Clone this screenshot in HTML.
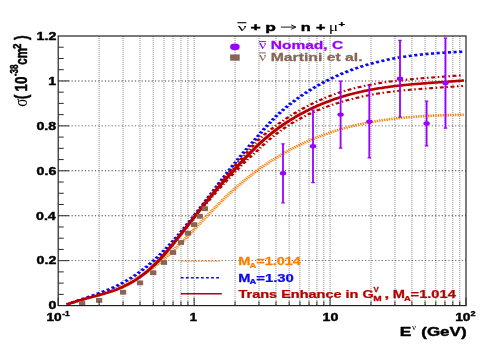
<!DOCTYPE html>
<html><head><meta charset="utf-8"><title>chart</title>
<style>html,body{margin:0;padding:0;background:#fff;}body{width:485px;height:360px;overflow:hidden;font-family:"Liberation Sans",sans-serif;}</style>
</head><body>
<svg width="485" height="360" viewBox="0 0 485 360" style="display:block;will-change:transform">
<rect width="485" height="360" fill="#fff"/>
<g transform="scale(1.45,1)">
<path d="M68.36,36.0 V305.6 M84.87,36.0 V305.6 M96.58,36.0 V305.6 M105.66,36.0 V305.6 M113.09,36.0 V305.6 M119.36,36.0 V305.6 M124.80,36.0 V305.6 M129.60,36.0 V305.6 M133.89,36.0 V305.6 M162.11,36.0 V305.6 M178.61,36.0 V305.6 M190.33,36.0 V305.6 M199.41,36.0 V305.6 M206.83,36.0 V305.6 M213.11,36.0 V305.6 M218.55,36.0 V305.6 M223.34,36.0 V305.6 M227.63,36.0 V305.6 M255.85,36.0 V305.6 M272.36,36.0 V305.6 M284.07,36.0 V305.6 M293.16,36.0 V305.6 M300.58,36.0 V305.6 M306.86,36.0 V305.6 M312.29,36.0 V305.6 M317.09,36.0 V305.6" stroke="#333" stroke-width="0.7" stroke-dasharray="1 1" fill="none" opacity="0.55"/>
<path d="M40.14,260.67 H321.38 M40.14,215.73 H321.38 M40.14,170.80 H321.38 M40.14,125.87 H321.38 M40.14,80.93 H321.38" stroke="#222" stroke-width="0.9" stroke-dasharray="0.85 1.45" fill="none" opacity="0.85"/>
<path d="M46.14,304.32 L47.05,303.94 L47.97,303.55 L48.88,303.17 L49.80,302.79 L50.71,302.41 L51.63,302.03 L52.55,301.65 L53.46,301.26 L54.38,300.88 L55.29,300.49 L56.21,300.11 L57.12,299.72 L58.04,299.32 L58.95,298.93 L59.87,298.53 L60.78,298.13 L61.70,297.72 L62.61,297.31 L63.53,296.90 L64.44,296.48 L65.36,296.05 L66.28,295.62 L67.19,295.19 L68.11,294.75 L69.02,294.30 L69.94,293.84 L70.85,293.38 L71.77,292.91 L72.68,292.44 L73.60,291.95 L74.51,291.46 L75.43,290.96 L76.34,290.45 L77.26,289.93 L78.18,289.40 L79.09,288.86 L80.01,288.31 L80.92,287.75 L81.84,287.18 L82.75,286.60 L83.67,286.00 L84.58,285.40 L85.50,284.78 L86.41,284.15 L87.33,283.51 L88.24,282.85 L89.16,282.18 L90.07,281.50 L90.99,280.81 L91.91,280.09 L92.82,279.37 L93.74,278.63 L94.65,277.87 L95.57,277.10 L96.48,276.31 L97.40,275.51 L98.31,274.69 L99.23,273.85 L100.14,272.99 L101.06,272.12 L101.97,271.23 L102.89,270.32 L103.80,269.40 L104.72,268.45 L105.64,267.49 L106.55,266.50 L107.47,265.50 L108.38,264.47 L109.30,263.43 L110.21,262.36 L111.13,261.28 L112.04,260.17 L112.96,259.04 L113.87,257.90 L114.79,256.73 L115.70,255.55 L116.62,254.35 L117.54,253.14 L118.45,251.90 L119.37,250.66 L120.28,249.40 L121.20,248.12 L122.11,246.84 L123.03,245.54 L123.94,244.23 L124.86,242.91 L125.77,241.58 L126.69,240.24 L127.60,238.89 L128.52,237.53 L129.43,236.17 L130.35,234.80 L131.27,233.42 L132.18,232.04 L133.10,230.66 L134.01,229.27 L134.93,227.88 L135.84,226.48 L136.76,225.08 L137.67,223.69 L138.59,222.29 L139.50,220.89 L140.42,219.50 L141.33,218.10 L142.25,216.71 L143.17,215.33 L144.08,213.94 L145.00,212.56 L145.91,211.19 L146.83,209.82 L147.74,208.46 L148.66,207.11 L149.57,205.76 L150.49,204.43 L151.40,203.10 L152.32,201.79 L153.23,200.48 L154.15,199.19 L155.06,197.91 L155.98,196.64 L156.90,195.38 L157.81,194.14 L158.73,192.91 L159.64,191.70 L160.56,190.49 L161.47,189.30 L162.39,188.13 L163.30,186.96 L164.22,185.81 L165.13,184.67 L166.05,183.54 L166.96,182.43 L167.88,181.32 L168.79,180.23 L169.71,179.16 L170.63,178.09 L171.54,177.04 L172.46,175.99 L173.37,174.96 L174.29,173.95 L175.20,172.94 L176.12,171.94 L177.03,170.96 L177.95,169.99 L178.86,169.03 L179.78,168.08 L180.69,167.14 L181.61,166.21 L182.53,165.30 L183.44,164.40 L184.36,163.50 L185.27,162.62 L186.19,161.75 L187.10,160.89 L188.02,160.04 L188.93,159.20 L189.85,158.37 L190.76,157.55 L191.68,156.75 L192.59,155.95 L193.51,155.16 L194.42,154.39 L195.34,153.62 L196.26,152.87 L197.17,152.12 L198.09,151.38 L199.00,150.66 L199.92,149.94 L200.83,149.24 L201.75,148.54 L202.66,147.85 L203.58,147.18 L204.49,146.51 L205.41,145.85 L206.32,145.20 L207.24,144.56 L208.15,143.93 L209.07,143.31 L209.99,142.70 L210.90,142.09 L211.82,141.50 L212.73,140.92 L213.65,140.34 L214.56,139.77 L215.48,139.21 L216.39,138.66 L217.31,138.12 L218.22,137.59 L219.14,137.06 L220.05,136.55 L220.97,136.04 L221.89,135.54 L222.80,135.05 L223.72,134.56 L224.63,134.09 L225.55,133.62 L226.46,133.16 L227.38,132.71 L228.29,132.26 L229.21,131.82 L230.12,131.39 L231.04,130.97 L231.95,130.56 L232.87,130.15 L233.78,129.75 L234.70,129.36 L235.62,128.97 L236.53,128.59 L237.45,128.22 L238.36,127.86 L239.28,127.50 L240.19,127.15 L241.11,126.80 L242.02,126.47 L242.94,126.14 L243.85,125.81 L244.77,125.49 L245.68,125.18 L246.60,124.88 L247.51,124.58 L248.43,124.29 L249.35,124.00 L250.26,123.72 L251.18,123.44 L252.09,123.17 L253.01,122.91 L253.92,122.65 L254.84,122.40 L255.75,122.16 L256.67,121.92 L257.58,121.68 L258.50,121.45 L259.41,121.23 L260.33,121.01 L261.25,120.79 L262.16,120.59 L263.08,120.38 L263.99,120.18 L264.91,119.99 L265.82,119.80 L266.74,119.62 L267.65,119.44 L268.57,119.26 L269.48,119.09 L270.40,118.93 L271.31,118.77 L272.23,118.61 L273.14,118.46 L274.06,118.31 L274.98,118.17 L275.89,118.03 L276.81,117.89 L277.72,117.76 L278.64,117.63 L279.55,117.50 L280.47,117.38 L281.38,117.27 L282.30,117.15 L283.21,117.04 L284.13,116.94 L285.04,116.83 L285.96,116.74 L286.87,116.64 L287.79,116.55 L288.71,116.46 L289.62,116.37 L290.54,116.28 L291.45,116.20 L292.37,116.12 L293.28,116.05 L294.20,115.98 L295.11,115.91 L296.03,115.84 L296.94,115.77 L297.86,115.71 L298.77,115.65 L299.69,115.59 L300.61,115.53 L301.52,115.48 L302.44,115.43 L303.35,115.38 L304.27,115.33 L305.18,115.29 L306.10,115.24 L307.01,115.20 L307.93,115.16 L308.84,115.12 L309.76,115.08 L310.67,115.04 L311.59,115.01 L312.50,114.97 L313.42,114.94 L314.34,114.91 L315.25,114.88 L316.17,114.85 L317.08,114.82 L318.00,114.80 L318.91,114.77 L319.83,114.74" stroke="#FF7F00" stroke-width="2.6" stroke-dasharray="0.95 0.75" fill="none"/>
<path d="M46.00,304.61 L46.91,304.11 L47.83,303.63 L48.74,303.14 L49.65,302.67 L50.56,302.20 L51.48,301.74 L52.39,301.28 L53.30,300.82 L54.22,300.36 L55.13,299.91 L56.04,299.46 L56.96,299.01 L57.87,298.56 L58.78,298.11 L59.69,297.66 L60.61,297.21 L61.52,296.76 L62.43,296.30 L63.35,295.84 L64.26,295.38 L65.17,294.91 L66.08,294.44 L67.00,293.96 L67.91,293.48 L68.82,292.99 L69.74,292.49 L70.65,291.98 L71.56,291.47 L72.47,290.94 L73.39,290.41 L74.30,289.87 L75.21,289.31 L76.13,288.74 L77.04,288.17 L77.95,287.57 L78.87,286.97 L79.78,286.35 L80.69,285.72 L81.60,285.07 L82.52,284.40 L83.43,283.72 L84.34,283.02 L85.26,282.31 L86.17,281.57 L87.08,280.82 L87.99,280.05 L88.91,279.25 L89.82,278.44 L90.73,277.61 L91.65,276.75 L92.56,275.87 L93.47,274.98 L94.39,274.06 L95.30,273.12 L96.21,272.15 L97.12,271.17 L98.04,270.17 L98.95,269.14 L99.86,268.10 L100.78,267.03 L101.69,265.94 L102.60,264.84 L103.51,263.71 L104.43,262.56 L105.34,261.40 L106.25,260.21 L107.17,259.00 L108.08,257.78 L108.99,256.53 L109.90,255.27 L110.82,253.98 L111.73,252.67 L112.64,251.35 L113.56,250.01 L114.47,248.65 L115.38,247.26 L116.30,245.86 L117.21,244.45 L118.12,243.01 L119.03,241.55 L119.95,240.08 L120.86,238.58 L121.77,237.08 L122.69,235.55 L123.60,234.01 L124.51,232.45 L125.42,230.88 L126.34,229.29 L127.25,227.70 L128.16,226.08 L129.08,224.46 L129.99,222.83 L130.90,221.18 L131.82,219.52 L132.73,217.86 L133.64,216.18 L134.55,214.50 L135.47,212.81 L136.38,211.11 L137.29,209.41 L138.21,207.69 L139.12,205.98 L140.03,204.26 L140.94,202.53 L141.86,200.81 L142.77,199.07 L143.68,197.34 L144.60,195.61 L145.51,193.87 L146.42,192.14 L147.34,190.40 L148.25,188.67 L149.16,186.93 L150.07,185.20 L150.99,183.47 L151.90,181.75 L152.81,180.03 L153.73,178.31 L154.64,176.60 L155.55,174.90 L156.46,173.20 L157.38,171.51 L158.29,169.83 L159.20,168.15 L160.12,166.49 L161.03,164.83 L161.94,163.18 L162.85,161.55 L163.77,159.93 L164.68,158.31 L165.59,156.72 L166.51,155.13 L167.42,153.56 L168.33,152.00 L169.25,150.46 L170.16,148.94 L171.07,147.43 L171.98,145.94 L172.90,144.46 L173.81,143.00 L174.72,141.52 L175.64,140.03 L176.55,138.50 L177.46,136.93 L178.37,135.36 L179.29,133.78 L180.20,132.23 L181.11,130.69 L182.03,129.18 L182.94,127.69 L183.85,126.22 L184.77,124.78 L185.68,123.36 L186.59,121.96 L187.50,120.59 L188.42,119.23 L189.33,117.91 L190.24,116.61 L191.16,115.33 L192.07,114.08 L192.98,112.85 L193.89,111.65 L194.81,110.46 L195.72,109.30 L196.63,108.16 L197.55,107.05 L198.46,105.95 L199.37,104.87 L200.28,103.82 L201.20,102.78 L202.11,101.76 L203.02,100.76 L203.94,99.77 L204.85,98.81 L205.76,97.86 L206.68,96.93 L207.59,96.01 L208.50,95.11 L209.41,94.22 L210.33,93.34 L211.24,92.48 L212.15,91.64 L213.07,90.80 L213.98,89.98 L214.89,89.17 L215.80,88.37 L216.72,87.59 L217.63,86.81 L218.54,86.05 L219.46,85.30 L220.37,84.56 L221.28,83.83 L222.20,83.11 L223.11,82.40 L224.02,81.71 L224.93,81.03 L225.85,80.35 L226.76,79.69 L227.67,79.04 L228.59,78.40 L229.50,77.77 L230.41,77.15 L231.32,76.54 L232.24,75.94 L233.15,75.35 L234.06,74.77 L234.98,74.20 L235.89,73.64 L236.80,73.09 L237.71,72.55 L238.63,72.02 L239.54,71.50 L240.45,70.99 L241.37,70.48 L242.28,69.99 L243.19,69.51 L244.11,69.03 L245.02,68.57 L245.93,68.11 L246.84,67.66 L247.76,67.22 L248.67,66.79 L249.58,66.37 L250.50,65.95 L251.41,65.54 L252.32,65.15 L253.23,64.76 L254.15,64.37 L255.06,64.00 L255.97,63.63 L256.89,63.27 L257.80,62.92 L258.71,62.58 L259.63,62.24 L260.54,61.91 L261.45,61.59 L262.36,61.28 L263.28,60.97 L264.19,60.67 L265.10,60.37 L266.02,60.09 L266.93,59.81 L267.84,59.53 L268.75,59.26 L269.67,59.00 L270.58,58.75 L271.49,58.50 L272.41,58.26 L273.32,58.02 L274.23,57.79 L275.14,57.56 L276.06,57.34 L276.97,57.13 L277.88,56.92 L278.80,56.72 L279.71,56.52 L280.62,56.33 L281.54,56.14 L282.45,55.96 L283.36,55.78 L284.27,55.61 L285.19,55.44 L286.10,55.28 L287.01,55.12 L287.93,54.97 L288.84,54.82 L289.75,54.67 L290.66,54.53 L291.58,54.39 L292.49,54.26 L293.40,54.13 L294.32,54.01 L295.23,53.88 L296.14,53.77 L297.06,53.65 L297.97,53.54 L298.88,53.43 L299.79,53.33 L300.71,53.23 L301.62,53.13 L302.53,53.03 L303.45,52.94 L304.36,52.85 L305.27,52.76 L306.18,52.68 L307.10,52.60 L308.01,52.52 L308.92,52.44 L309.84,52.37 L310.75,52.29 L311.66,52.22 L312.58,52.15 L313.49,52.09 L314.40,52.02 L315.31,51.96 L316.23,51.90 L317.14,51.83 L318.05,51.77 L318.97,51.72" stroke="#0A0AF0" stroke-width="2.6" stroke-dasharray="2.15 1.75" fill="none"/>
<path d="M140.00,204.79 L140.90,203.08 L141.80,201.38 L142.70,199.68 L143.60,198.00 L144.51,196.32 L145.41,194.65 L146.31,192.99 L147.21,191.34 L148.11,189.70 L149.01,188.08 L149.91,186.47 L150.81,184.87 L151.71,183.28 L152.61,181.71 L153.52,180.15 L154.42,178.59 L155.32,177.05 L156.22,175.52 L157.12,174.00 L158.02,172.49 L158.92,171.00 L159.82,169.51 L160.72,168.04 L161.63,166.57 L162.53,165.11 L163.43,163.65 L164.33,162.19 L165.23,160.74 L166.13,159.25 L167.03,157.76 L167.93,156.27 L168.83,154.78 L169.73,153.30 L170.64,151.83 L171.54,150.36 L172.44,148.91 L173.34,147.40 L174.24,145.91 L175.14,144.43 L176.04,142.97 L176.94,141.53 L177.84,140.26 L178.75,139.08 L179.65,137.93 L180.55,136.80 L181.45,135.68 L182.35,134.59 L183.25,133.51 L184.15,132.46 L185.05,131.42 L185.95,130.41 L186.85,129.41 L187.76,128.43 L188.66,127.46 L189.56,126.52 L190.46,125.55 L191.36,124.59 L192.26,123.64 L193.16,122.71 L194.06,121.80 L194.96,120.91 L195.87,120.02 L196.77,119.16 L197.67,118.31 L198.57,117.47 L199.47,116.65 L200.37,115.83 L201.27,115.01 L202.17,114.20 L203.07,113.40 L203.98,112.62 L204.88,111.85 L205.78,111.09 L206.68,110.34 L207.58,109.61 L208.48,108.88 L209.38,108.17 L210.28,107.47 L211.18,106.78 L212.08,106.10 L212.99,105.43 L213.89,104.78 L214.79,104.12 L215.69,103.48 L216.59,102.85 L217.49,102.23 L218.39,101.62 L219.29,101.02 L220.19,100.43 L221.10,99.85 L222.00,99.29 L222.90,98.73 L223.80,98.18 L224.70,97.64 L225.60,97.11 L226.50,96.59 L227.40,96.07 L228.30,95.57 L229.20,95.08 L230.11,94.60 L231.01,94.12 L231.91,93.65 L232.81,93.20 L233.71,92.75 L234.61,92.31 L235.51,91.90 L236.41,91.50 L237.31,91.10 L238.22,90.72 L239.12,90.34 L240.02,89.97 L240.92,89.61 L241.82,89.25 L242.72,88.90 L243.62,88.56 L244.52,88.23 L245.42,87.91 L246.32,87.59 L247.23,87.27 L248.13,86.97 L249.03,86.67 L249.93,86.38 L250.83,86.10 L251.73,85.82 L252.63,85.54 L253.53,85.28 L254.43,85.02 L255.34,84.76 L256.24,84.51 L257.14,84.27 L258.04,84.04 L258.94,83.80 L259.84,83.58 L260.74,83.36 L261.64,83.14 L262.54,82.93 L263.44,82.73 L264.35,82.52 L265.25,82.33 L266.15,82.14 L267.05,81.95 L267.95,81.77 L268.85,81.59 L269.75,81.42 L270.65,81.25 L271.55,81.08 L272.46,80.92 L273.36,80.76 L274.26,80.61 L275.16,80.45 L276.06,80.31 L276.96,80.16 L277.86,80.02 L278.76,79.88 L279.66,79.75 L280.56,79.62 L281.47,79.49 L282.37,79.36 L283.27,79.24 L284.17,79.12 L285.07,79.00 L285.97,78.88 L286.87,78.77 L287.77,78.65 L288.67,78.54 L289.58,78.43 L290.48,78.33 L291.38,78.22 L292.28,78.12 L293.18,78.01 L294.08,77.91 L294.98,77.81 L295.88,77.71 L296.78,77.61 L297.68,77.51 L298.59,77.42 L299.49,77.32 L300.39,77.23 L301.29,77.13 L302.19,77.03 L303.09,76.94 L303.99,76.84 L304.89,76.75 L305.79,76.65 L306.70,76.56 L307.60,76.46 L308.50,76.37 L309.40,76.27 L310.30,76.17 L311.20,76.07 L312.10,75.97 L313.00,75.87 L313.90,75.77 L314.81,75.67 L315.71,75.56 L316.61,75.46 L317.51,75.35 L318.41,75.24 L319.31,75.13" stroke="#B80000" stroke-width="2.1" stroke-dasharray="2.7 1.8 1.1 1.8" fill="none"/>
<path d="M140.00,207.39 L140.90,205.83 L141.80,204.28 L142.70,202.74 L143.60,201.21 L144.51,199.68 L145.41,198.16 L146.31,196.66 L147.21,195.16 L148.11,193.67 L149.01,192.19 L149.91,190.72 L150.81,189.26 L151.71,187.82 L152.61,186.38 L153.52,184.96 L154.42,183.54 L155.32,182.14 L156.22,180.75 L157.12,179.37 L158.02,178.00 L158.92,176.64 L159.82,175.29 L160.72,173.94 L161.63,172.60 L162.53,171.27 L163.43,169.94 L164.33,168.62 L165.23,167.29 L166.13,166.00 L167.03,164.71 L167.93,163.43 L168.83,162.15 L169.73,160.88 L170.64,159.62 L171.54,158.36 L172.44,157.12 L173.34,155.95 L174.24,154.79 L175.14,153.65 L176.04,152.52 L176.94,151.42 L177.84,150.18 L178.75,148.89 L179.65,147.62 L180.55,146.37 L181.45,145.14 L182.35,143.93 L183.25,142.74 L184.15,141.57 L185.05,140.42 L185.95,139.28 L186.85,138.17 L187.76,137.07 L188.66,135.99 L189.56,134.93 L190.46,133.93 L191.36,132.95 L192.26,131.99 L193.16,131.05 L194.06,130.12 L194.96,129.20 L195.87,128.30 L196.77,127.42 L197.67,126.55 L198.57,125.70 L199.47,124.86 L200.37,124.05 L201.27,123.26 L202.17,122.49 L203.07,121.74 L203.98,120.99 L204.88,120.26 L205.78,119.54 L206.68,118.83 L207.58,118.13 L208.48,117.45 L209.38,116.78 L210.28,116.12 L211.18,115.46 L212.08,114.83 L212.99,114.20 L213.89,113.58 L214.79,112.98 L215.69,112.39 L216.59,111.81 L217.49,111.25 L218.39,110.69 L219.29,110.14 L220.19,109.60 L221.10,109.08 L222.00,108.56 L222.90,108.05 L223.80,107.56 L224.70,107.07 L225.60,106.59 L226.50,106.12 L227.40,105.66 L228.30,105.21 L229.20,104.77 L230.11,104.34 L231.01,103.92 L231.91,103.50 L232.81,103.10 L233.71,102.70 L234.61,102.31 L235.51,101.91 L236.41,101.51 L237.31,101.13 L238.22,100.75 L239.12,100.38 L240.02,100.02 L240.92,99.67 L241.82,99.32 L242.72,98.98 L243.62,98.65 L244.52,98.32 L245.42,98.01 L246.32,97.70 L247.23,97.39 L248.13,97.10 L249.03,96.81 L249.93,96.52 L250.83,96.25 L251.73,95.98 L252.63,95.71 L253.53,95.45 L254.43,95.20 L255.34,94.96 L256.24,94.72 L257.14,94.48 L258.04,94.25 L258.94,94.03 L259.84,93.81 L260.74,93.60 L261.64,93.39 L262.54,93.19 L263.44,92.99 L264.35,92.80 L265.25,92.61 L266.15,92.43 L267.05,92.25 L267.95,92.08 L268.85,91.91 L269.75,91.74 L270.65,91.58 L271.55,91.42 L272.46,91.27 L273.36,91.12 L274.26,90.97 L275.16,90.83 L276.06,90.69 L276.96,90.56 L277.86,90.42 L278.76,90.30 L279.66,90.17 L280.56,90.05 L281.47,89.92 L282.37,89.81 L283.27,89.69 L284.17,89.58 L285.07,89.47 L285.97,89.36 L286.87,89.25 L287.77,89.15 L288.67,89.04 L289.58,88.94 L290.48,88.85 L291.38,88.75 L292.28,88.65 L293.18,88.56 L294.08,88.46 L294.98,88.37 L295.88,88.28 L296.78,88.19 L297.68,88.10 L298.59,88.01 L299.49,87.92 L300.39,87.84 L301.29,87.75 L302.19,87.66 L303.09,87.58 L303.99,87.49 L304.89,87.40 L305.79,87.32 L306.70,87.23 L307.60,87.14 L308.50,87.05 L309.40,86.96 L310.30,86.87 L311.20,86.78 L312.10,86.69 L313.00,86.60 L313.90,86.51 L314.81,86.41 L315.71,86.32 L316.61,86.22 L317.51,86.12 L318.41,86.02 L319.31,85.92" stroke="#B80000" stroke-width="2.1" stroke-dasharray="2.7 1.8 1.1 1.8" fill="none"/>
<path d="M46.00,304.58 L46.92,304.08 L47.83,303.60 L48.75,303.13 L49.67,302.68 L50.58,302.24 L51.50,301.81 L52.41,301.39 L53.33,300.99 L54.25,300.59 L55.16,300.21 L56.08,299.83 L57.00,299.46 L57.91,299.09 L58.83,298.73 L59.75,298.38 L60.66,298.03 L61.58,297.68 L62.49,297.33 L63.41,296.98 L64.33,296.64 L65.24,296.29 L66.16,295.94 L67.08,295.59 L67.99,295.23 L68.91,294.87 L69.83,294.50 L70.74,294.12 L71.66,293.74 L72.58,293.35 L73.49,292.95 L74.41,292.54 L75.32,292.12 L76.24,291.68 L77.16,291.23 L78.07,290.77 L78.99,290.29 L79.91,289.80 L80.82,289.29 L81.74,288.76 L82.66,288.21 L83.57,287.64 L84.49,287.05 L85.40,286.44 L86.32,285.81 L87.24,285.15 L88.15,284.47 L89.07,283.77 L89.99,283.04 L90.90,282.28 L91.82,281.49 L92.74,280.67 L93.65,279.82 L94.57,278.95 L95.48,278.04 L96.40,277.10 L97.32,276.13 L98.23,275.13 L99.15,274.10 L100.07,273.04 L100.98,271.95 L101.90,270.83 L102.82,269.68 L103.73,268.50 L104.65,267.29 L105.57,266.04 L106.48,264.77 L107.40,263.47 L108.31,262.13 L109.23,260.77 L110.15,259.37 L111.06,257.95 L111.98,256.50 L112.90,255.01 L113.81,253.51 L114.73,251.98 L115.65,250.42 L116.56,248.85 L117.48,247.26 L118.39,245.65 L119.31,244.03 L120.23,242.39 L121.14,240.74 L122.06,239.08 L122.98,237.41 L123.89,235.74 L124.81,234.06 L125.73,232.37 L126.64,230.68 L127.56,228.99 L128.47,227.30 L129.39,225.61 L130.31,223.91 L131.22,222.22 L132.14,220.52 L133.06,218.83 L133.97,217.14 L134.89,215.45 L135.81,213.76 L136.72,212.08 L137.64,210.40 L138.56,208.72 L139.47,207.05 L140.39,205.39 L141.30,203.73 L142.22,202.08 L143.14,200.44 L144.05,198.80 L144.97,197.18 L145.89,195.56 L146.80,193.96 L147.72,192.36 L148.64,190.78 L149.55,189.21 L150.47,187.65 L151.38,186.10 L152.30,184.57 L153.22,183.04 L154.13,181.53 L155.05,180.03 L155.97,178.55 L156.88,177.07 L157.80,175.60 L158.72,174.15 L159.63,172.70 L160.55,171.26 L161.46,169.84 L162.38,168.41 L163.30,167.00 L164.21,165.58 L165.13,164.17 L166.05,162.75 L166.96,161.34 L167.88,159.93 L168.80,158.53 L169.71,157.13 L170.63,155.73 L171.55,154.35 L172.46,152.98 L173.38,151.62 L174.29,150.27 L175.21,148.94 L176.13,147.63 L177.04,146.33 L177.96,145.06 L178.88,143.81 L179.79,142.58 L180.71,141.37 L181.63,140.18 L182.54,139.02 L183.46,137.87 L184.37,136.74 L185.29,135.63 L186.21,134.55 L187.12,133.48 L188.04,132.43 L188.96,131.39 L189.87,130.38 L190.79,129.38 L191.71,128.40 L192.62,127.44 L193.54,126.49 L194.45,125.56 L195.37,124.65 L196.29,123.75 L197.20,122.87 L198.12,122.00 L199.04,121.15 L199.95,120.32 L200.87,119.49 L201.79,118.68 L202.70,117.89 L203.62,117.11 L204.54,116.34 L205.45,115.58 L206.37,114.84 L207.28,114.10 L208.20,113.38 L209.12,112.68 L210.03,111.98 L210.95,111.29 L211.87,110.62 L212.78,109.96 L213.70,109.31 L214.62,108.67 L215.53,108.04 L216.45,107.43 L217.36,106.82 L218.28,106.23 L219.20,105.64 L220.11,105.07 L221.03,104.51 L221.95,103.95 L222.86,103.41 L223.78,102.88 L224.70,102.36 L225.61,101.84 L226.53,101.34 L227.44,100.85 L228.36,100.36 L229.28,99.89 L230.19,99.42 L231.11,98.97 L232.03,98.52 L232.94,98.08 L233.86,97.65 L234.78,97.23 L235.69,96.82 L236.61,96.42 L237.53,96.03 L238.44,95.64 L239.36,95.26 L240.27,94.89 L241.19,94.53 L242.11,94.17 L243.02,93.83 L243.94,93.49 L244.86,93.16 L245.77,92.83 L246.69,92.52 L247.61,92.21 L248.52,91.90 L249.44,91.61 L250.35,91.32 L251.27,91.04 L252.19,90.76 L253.10,90.49 L254.02,90.23 L254.94,89.97 L255.85,89.72 L256.77,89.47 L257.69,89.24 L258.60,89.00 L259.52,88.77 L260.43,88.55 L261.35,88.34 L262.27,88.12 L263.18,87.92 L264.10,87.72 L265.02,87.52 L265.93,87.33 L266.85,87.14 L267.77,86.96 L268.68,86.78 L269.60,86.61 L270.52,86.44 L271.43,86.27 L272.35,86.11 L273.26,85.96 L274.18,85.80 L275.10,85.65 L276.01,85.51 L276.93,85.37 L277.85,85.23 L278.76,85.09 L279.68,84.96 L280.60,84.83 L281.51,84.70 L282.43,84.58 L283.34,84.45 L284.26,84.34 L285.18,84.22 L286.09,84.10 L287.01,83.99 L287.93,83.88 L288.84,83.77 L289.76,83.67 L290.68,83.56 L291.59,83.46 L292.51,83.36 L293.42,83.26 L294.34,83.16 L295.26,83.06 L296.17,82.97 L297.09,82.87 L298.01,82.77 L298.92,82.68 L299.84,82.59 L300.76,82.49 L301.67,82.40 L302.59,82.31 L303.51,82.22 L304.42,82.12 L305.34,82.03 L306.25,81.94 L307.17,81.84 L308.09,81.75 L309.00,81.66 L309.92,81.56 L310.84,81.47 L311.75,81.37 L312.67,81.27 L313.59,81.17 L314.50,81.07 L315.42,80.97 L316.33,80.87 L317.25,80.76 L318.17,80.66 L319.08,80.55 L320.00,80.44" stroke="#B80000" stroke-width="2.55" fill="none"/>
<rect x="54.50" y="301.10" width="4.3" height="4.8" fill="#876656"/>
<rect x="66.21" y="298.00" width="4.3" height="4.8" fill="#876656"/>
<rect x="82.72" y="289.80" width="4.3" height="4.8" fill="#876656"/>
<rect x="94.43" y="280.50" width="4.3" height="4.8" fill="#876656"/>
<rect x="103.51" y="270.35" width="4.3" height="4.8" fill="#876656"/>
<rect x="110.94" y="260.10" width="4.3" height="4.8" fill="#876656"/>
<rect x="117.21" y="250.10" width="4.3" height="4.8" fill="#876656"/>
<rect x="122.65" y="240.10" width="4.3" height="4.8" fill="#876656"/>
<rect x="127.45" y="230.80" width="4.3" height="4.8" fill="#876656"/>
<rect x="131.74" y="222.20" width="4.3" height="4.8" fill="#876656"/>
<rect x="135.62" y="213.90" width="4.3" height="4.8" fill="#876656"/>
<rect x="139.16" y="206.30" width="4.3" height="4.8" fill="#876656"/>
<path d="M195.17,143.75 V202.75 M193.97,143.75 h2.4 M193.97,202.75 h2.4" stroke="#9900FF" stroke-width="1.25" fill="none"/>
<circle cx="195.17" cy="173.25" r="2.2" fill="#9900FF"/>
<path d="M215.86,110.00 V182.50 M214.66,110.00 h2.4 M214.66,182.50 h2.4" stroke="#9900FF" stroke-width="1.25" fill="none"/>
<circle cx="215.86" cy="146.25" r="2.2" fill="#9900FF"/>
<path d="M234.90,81.10 V148.10 M233.70,81.10 h2.4 M233.70,148.10 h2.4" stroke="#9900FF" stroke-width="1.25" fill="none"/>
<circle cx="234.90" cy="114.6" r="2.2" fill="#9900FF"/>
<path d="M254.69,85.40 V157.80 M253.49,85.40 h2.4 M253.49,157.80 h2.4" stroke="#9900FF" stroke-width="1.25" fill="none"/>
<circle cx="254.69" cy="121.6" r="2.2" fill="#9900FF"/>
<path d="M275.86,40.45 V117.05 M274.66,40.45 h2.4 M274.66,117.05 h2.4" stroke="#9900FF" stroke-width="1.25" fill="none"/>
<circle cx="275.86" cy="78.75" r="2.2" fill="#9900FF"/>
<path d="M294.21,101.20 V145.80 M293.01,101.20 h2.4 M293.01,145.80 h2.4" stroke="#9900FF" stroke-width="1.25" fill="none"/>
<circle cx="294.21" cy="123.5" r="2.2" fill="#9900FF"/>
<path d="M307.24,38.00 V128.00 M306.04,38.00 h2.4 M306.04,128.00 h2.4" stroke="#9900FF" stroke-width="1.25" fill="none"/>
<circle cx="307.24" cy="83" r="2.2" fill="#9900FF"/>
</g>
<rect x="58.2" y="36.0" width="407.80" height="269.60" fill="none" stroke="#1a1a1a" stroke-width="1.15"/>
<path d="M58.2,294.37 h5.5 M58.2,283.13 h5.5 M58.2,271.90 h5.5 M58.2,260.67 h11 M58.2,249.43 h5.5 M58.2,238.20 h5.5 M58.2,226.97 h5.5 M58.2,215.73 h11 M58.2,204.50 h5.5 M58.2,193.27 h5.5 M58.2,182.03 h5.5 M58.2,170.80 h11 M58.2,159.57 h5.5 M58.2,148.33 h5.5 M58.2,137.10 h5.5 M58.2,125.87 h11 M58.2,114.63 h5.5 M58.2,103.40 h5.5 M58.2,92.17 h5.5 M58.2,80.93 h11 M58.2,69.70 h5.5 M58.2,58.47 h5.5 M58.2,47.23 h5.5 M58.20,305.6 v-8 M99.12,305.6 v-4.3 M123.06,305.6 v-4.3 M140.04,305.6 v-4.3 M153.21,305.6 v-4.3 M163.98,305.6 v-4.3 M173.08,305.6 v-4.3 M180.96,305.6 v-4.3 M187.91,305.6 v-4.3 M194.13,305.6 v-8 M235.05,305.6 v-4.3 M258.99,305.6 v-4.3 M275.97,305.6 v-4.3 M289.15,305.6 v-4.3 M299.91,305.6 v-4.3 M309.01,305.6 v-4.3 M316.89,305.6 v-4.3 M323.85,305.6 v-4.3 M330.07,305.6 v-8 M370.99,305.6 v-4.3 M394.92,305.6 v-4.3 M411.91,305.6 v-4.3 M425.08,305.6 v-4.3 M435.84,305.6 v-4.3 M444.94,305.6 v-4.3 M452.83,305.6 v-4.3 M459.78,305.6 v-4.3 M466.0,305.6 v-8" stroke="#2a2a2a" stroke-width="1.0" fill="none"/>
<path d="M237.4,22.7 H246.4" stroke="#000" stroke-width="1.1"/>
<path d="M280.9,27.1 H295.4 M291.2,24.9 L295.9,27.1 L291.2,29.3" stroke="#000" stroke-width="0.9" fill="none"/>
<ellipse cx="234.9" cy="46.9" rx="4.8" ry="3.3" fill="#9900FF"/>
<rect x="230.1" y="54.4" width="9.6" height="6.3" fill="#876656"/>
<path d="M259,41.6 H266" stroke="#9900FF" stroke-width="1"/>
<path d="M259,52.9 H266" stroke="#876656" stroke-width="1"/>
<path d="M180.8,261.2 H220.8" stroke="#FF7F00" stroke-width="1.3" stroke-dasharray="1.3 1.2" fill="none"/>
<path d="M180.8,277.75 H220.3" stroke="#0A0AF0" stroke-width="1.5" stroke-dasharray="2.8 2.25" fill="none"/>
<path d="M180.8,293.8 H221.8" stroke="#B80000" stroke-width="1.5" fill="none"/>
<text transform="translate(48.42,309.40) scale(1.420,1)" font-family="'Liberation Sans', sans-serif" font-size="10.0" font-weight="bold" fill="#000" stroke="#000" stroke-width="0.4" stroke-linejoin="round">0</text>
<text transform="translate(36.57,264.47) scale(1.420,1)" font-family="'Liberation Sans', sans-serif" font-size="10.0" font-weight="bold" fill="#000" stroke="#000" stroke-width="0.4" stroke-linejoin="round">0.2</text>
<text transform="translate(36.01,219.53) scale(1.420,1)" font-family="'Liberation Sans', sans-serif" font-size="10.0" font-weight="bold" fill="#000" stroke="#000" stroke-width="0.4" stroke-linejoin="round">0.4</text>
<text transform="translate(36.57,174.60) scale(1.420,1)" font-family="'Liberation Sans', sans-serif" font-size="10.0" font-weight="bold" fill="#000" stroke="#000" stroke-width="0.4" stroke-linejoin="round">0.6</text>
<text transform="translate(36.43,129.67) scale(1.420,1)" font-family="'Liberation Sans', sans-serif" font-size="10.0" font-weight="bold" fill="#000" stroke="#000" stroke-width="0.4" stroke-linejoin="round">0.8</text>
<text transform="translate(48.27,84.73) scale(1.420,1)" font-family="'Liberation Sans', sans-serif" font-size="10.0" font-weight="bold" fill="#000" stroke="#000" stroke-width="0.4" stroke-linejoin="round">1</text>
<text transform="translate(36.57,39.80) scale(1.420,1)" font-family="'Liberation Sans', sans-serif" font-size="10.0" font-weight="bold" fill="#000" stroke="#000" stroke-width="0.4" stroke-linejoin="round">1.2</text>
<text transform="translate(46.48,320.70) scale(1.368,1)" font-family="'Liberation Sans', sans-serif" font-size="10.0" font-weight="bold" fill="#000" stroke="#000" stroke-width="0.4" stroke-linejoin="round">10</text>
<text transform="translate(62.15,316.00) scale(1.136,1)" font-family="'Liberation Sans', sans-serif" font-size="7.4" font-weight="bold" fill="#000" stroke="#000" stroke-width="0.4" stroke-linejoin="round">-1</text>
<text transform="translate(189.66,320.70) scale(1.300,1)" font-family="'Liberation Sans', sans-serif" font-size="10.0" font-weight="bold" fill="#000" stroke="#000" stroke-width="0.4" stroke-linejoin="round">1</text>
<text transform="translate(322.50,320.70) scale(1.420,1)" font-family="'Liberation Sans', sans-serif" font-size="10.0" font-weight="bold" fill="#000" stroke="#000" stroke-width="0.4" stroke-linejoin="round">10</text>
<text transform="translate(455.17,320.70) scale(1.378,1)" font-family="'Liberation Sans', sans-serif" font-size="10.0" font-weight="bold" fill="#000" stroke="#000" stroke-width="0.4" stroke-linejoin="round">10</text>
<text transform="translate(470.52,316.00) scale(1.241,1)" font-family="'Liberation Sans', sans-serif" font-size="7.4" font-weight="bold" fill="#000" stroke="#000" stroke-width="0.4" stroke-linejoin="round">2</text>
<text transform="translate(237.60,30.60) scale(1.852,1)" font-family="'Liberation Serif', serif" font-size="10.8" font-weight="normal" fill="#000">ν</text>
<text transform="translate(250.49,30.60) scale(1.535,1)" font-family="'Liberation Sans', sans-serif" font-size="11.5" font-weight="bold" fill="#000" stroke="#000" stroke-width="0.4" stroke-linejoin="round">+</text>
<text transform="translate(265.35,30.60) scale(1.517,1)" font-family="'Liberation Sans', sans-serif" font-size="11.5" font-weight="bold" fill="#000" stroke="#000" stroke-width="0.4" stroke-linejoin="round">p</text>
<text transform="translate(300.82,30.60) scale(1.420,1)" font-family="'Liberation Sans', sans-serif" font-size="11.5" font-weight="bold" fill="#000" stroke="#000" stroke-width="0.4" stroke-linejoin="round">n</text>
<text transform="translate(315.95,30.60) scale(1.415,1)" font-family="'Liberation Sans', sans-serif" font-size="11.5" font-weight="bold" fill="#000" stroke="#000" stroke-width="0.4" stroke-linejoin="round">+</text>
<text transform="translate(328.79,30.60) scale(1.532,1)" font-family="'Liberation Serif', serif" font-size="11.5" font-weight="normal" fill="#000">μ</text>
<text transform="translate(338.46,27.20) scale(1.373,1)" font-family="'Liberation Sans', sans-serif" font-size="8.0" font-weight="bold" fill="#000" stroke="#000" stroke-width="0.4" stroke-linejoin="round">+</text>
<text transform="translate(399.86,335.60) scale(1.447,1)" font-family="'Liberation Sans', sans-serif" font-size="12" font-weight="bold" fill="#000" stroke="#000" stroke-width="0.4" stroke-linejoin="round">E</text>
<text transform="translate(412.00,330.30) scale(1.178,1)" font-family="'Liberation Serif', serif" font-size="7.5" font-weight="normal" fill="#000">ν</text>
<text transform="translate(421.22,335.60) scale(1.419,1)" font-family="'Liberation Sans', sans-serif" font-size="12" font-weight="bold" fill="#000" stroke="#000" stroke-width="0.4" stroke-linejoin="round">(GeV)</text>
<text transform="translate(27.20,106.76) scale(1.3,1.013) rotate(-90)" font-family="'Liberation Serif', serif" font-size="15" font-weight="normal" fill="#000">σ</text>
<text transform="translate(27.20,99.26) scale(1.3,1.037) rotate(-90)" font-family="'Liberation Sans', sans-serif" font-size="13.5" font-weight="bold" fill="#000" stroke="#000" stroke-width="0.4" stroke-linejoin="round">(</text>
<text transform="translate(27.20,91.41) scale(1.3,1.037) rotate(-90)" font-family="'Liberation Sans', sans-serif" font-size="13" font-weight="bold" fill="#000" stroke="#000" stroke-width="0.4" stroke-linejoin="round">10</text>
<text transform="translate(17.50,76.24) scale(1.3,0.896) rotate(-90)" font-family="'Liberation Sans', sans-serif" font-size="9" font-weight="bold" fill="#000" stroke="#000" stroke-width="0.4" stroke-linejoin="round">-38</text>
<text transform="translate(27.20,64.75) scale(1.3,0.888) rotate(-90)" font-family="'Liberation Sans', sans-serif" font-size="13" font-weight="bold" fill="#000" stroke="#000" stroke-width="0.4" stroke-linejoin="round">cm</text>
<text transform="translate(21.00,49.09) scale(1.3,1.224) rotate(-90)" font-family="'Liberation Sans', sans-serif" font-size="8" font-weight="bold" fill="#000" stroke="#000" stroke-width="0.4" stroke-linejoin="round">2</text>
<text transform="translate(27.20,40.00) scale(1.3,1.073) rotate(-90)" font-family="'Liberation Sans', sans-serif" font-size="13.5" font-weight="bold" fill="#000" stroke="#000" stroke-width="0.4" stroke-linejoin="round">)</text>
<text transform="translate(259.00,49.30) scale(1.395,1)" font-family="'Liberation Serif', serif" font-size="11.5" font-weight="normal" fill="#9900FF">ν</text>
<text transform="translate(270.67,49.30) scale(1.469,1)" font-family="'Liberation Sans', sans-serif" font-size="10.6" font-weight="bold" fill="#9900FF" stroke="#9900FF" stroke-width="0.25" stroke-linejoin="round">Nomad, C</text>
<text transform="translate(259.00,60.60) scale(1.395,1)" font-family="'Liberation Serif', serif" font-size="11.5" font-weight="normal" fill="#876656">ν</text>
<text transform="translate(270.65,60.60) scale(1.488,1)" font-family="'Liberation Sans', sans-serif" font-size="10.6" font-weight="bold" fill="#876656" stroke="#876656" stroke-width="0.25" stroke-linejoin="round">Martini et al.</text>
<text transform="translate(238.32,265.30) scale(1.408,1)" font-family="'Liberation Sans', sans-serif" font-size="10.4" font-weight="bold" fill="#FF7F00" stroke="#FF7F00" stroke-width="0.25" stroke-linejoin="round">M</text>
<text transform="translate(249.61,268.10) scale(1.345,1)" font-family="'Liberation Sans', sans-serif" font-size="7.0" font-weight="bold" fill="#FF7F00" stroke="#FF7F00" stroke-width="0.25" stroke-linejoin="round">A</text>
<text transform="translate(256.22,265.30) scale(1.390,1)" font-family="'Liberation Sans', sans-serif" font-size="10.4" font-weight="bold" fill="#FF7F00" stroke="#FF7F00" stroke-width="0.25" stroke-linejoin="round">=1.014</text>
<text transform="translate(238.32,281.60) scale(1.408,1)" font-family="'Liberation Sans', sans-serif" font-size="10.4" font-weight="bold" fill="#0A0AF0" stroke="#0A0AF0" stroke-width="0.25" stroke-linejoin="round">M</text>
<text transform="translate(249.61,284.40) scale(1.345,1)" font-family="'Liberation Sans', sans-serif" font-size="7.0" font-weight="bold" fill="#0A0AF0" stroke="#0A0AF0" stroke-width="0.25" stroke-linejoin="round">A</text>
<text transform="translate(256.20,281.60) scale(1.434,1)" font-family="'Liberation Sans', sans-serif" font-size="10.4" font-weight="bold" fill="#0A0AF0" stroke="#0A0AF0" stroke-width="0.25" stroke-linejoin="round">=1.30</text>
<text transform="translate(238.45,297.90) scale(1.394,1)" font-family="'Liberation Sans', sans-serif" font-size="10.4" font-weight="bold" fill="#B80000" stroke="#B80000" stroke-width="0.25" stroke-linejoin="round">Trans Enhance in G</text>
<text transform="translate(373.60,292.30) scale(1.130,1)" font-family="'Liberation Sans', sans-serif" font-size="7.0" font-weight="bold" fill="#B80000" stroke="#B80000" stroke-width="0.25" stroke-linejoin="round">V</text>
<text transform="translate(373.19,300.50) scale(1.449,1)" font-family="'Liberation Sans', sans-serif" font-size="7.0" font-weight="bold" fill="#B80000" stroke="#B80000" stroke-width="0.25" stroke-linejoin="round">M</text>
<text transform="translate(384.59,297.90) scale(1.623,1)" font-family="'Liberation Sans', sans-serif" font-size="10.4" font-weight="bold" fill="#B80000" stroke="#B80000" stroke-width="0.25" stroke-linejoin="round">,</text>
<text transform="translate(392.72,297.90) scale(1.408,1)" font-family="'Liberation Sans', sans-serif" font-size="10.4" font-weight="bold" fill="#B80000" stroke="#B80000" stroke-width="0.25" stroke-linejoin="round">M</text>
<text transform="translate(404.01,300.70) scale(1.345,1)" font-family="'Liberation Sans', sans-serif" font-size="7.0" font-weight="bold" fill="#B80000" stroke="#B80000" stroke-width="0.25" stroke-linejoin="round">A</text>
<text transform="translate(410.61,297.90) scale(1.409,1)" font-family="'Liberation Sans', sans-serif" font-size="10.4" font-weight="bold" fill="#B80000" stroke="#B80000" stroke-width="0.25" stroke-linejoin="round">=1.014</text>
</svg>
</body></html>
